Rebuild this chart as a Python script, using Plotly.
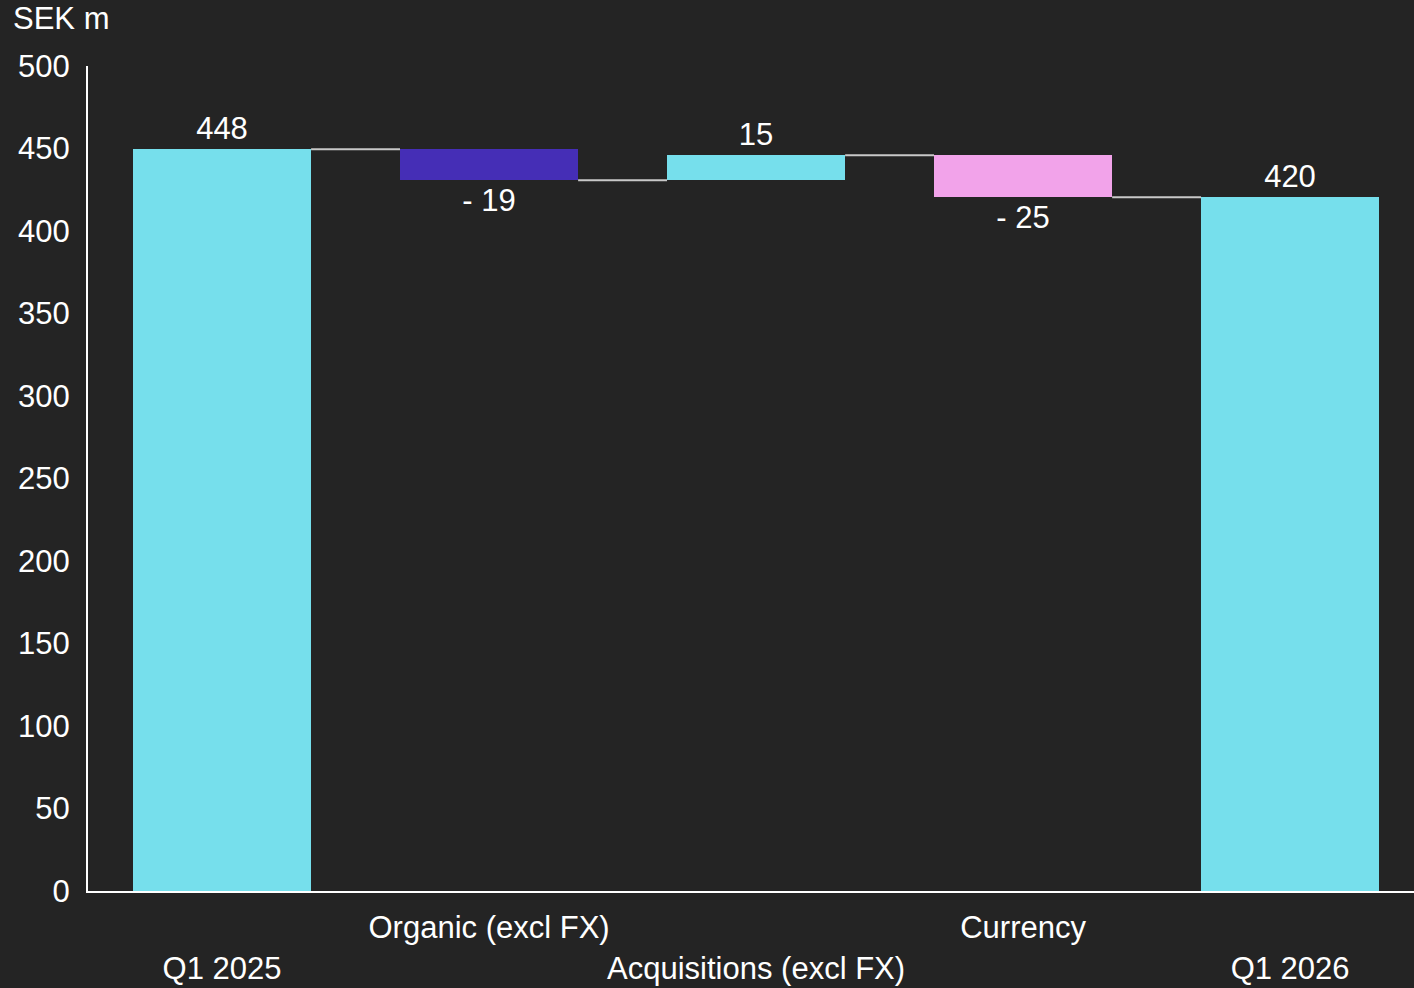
import plotly.graph_objects as go

# Bridge Q1 2025 -> Q1 2026, SEK m
categories = ["Q1 2025", "Organic (excl FX)", "Acquisitions (excl FX)", "Currency", "Q1 2026"]
start_value = 449.5
changes = [-18.8, 15.2, -25.5]
labels = ["448", "- 19", "15", "- 25", "420"]
colors = ["#76DFEC", "#452EB6", "#76DFEC", "#F2A3EA", "#76DFEC"]
y_ticks = [0, 50, 100, 150, 200, 250, 300, 350, 400, 450, 500]

BG = "#242424"
FONT = "Liberation Sans, Arial, sans-serif"
FS = 31
BAR_W = 0.667


def build_bridge():
    """Base and height of every bar from start value and changes"""
    bases, heights, levels = [0], [start_value], [start_value]
    level = start_value
    for c in changes:
        bases.append(level)
        heights.append(c)
        level += c
        levels.append(level)
    total = level
    bases.append(0)
    heights.append(total)
    return bases, heights, levels


bases, heights, levels = build_bridge()
xs = list(range(len(categories)))

fig = go.Figure()
fig.add_trace(go.Bar(
    x=xs, y=heights, base=bases, width=BAR_W,
    marker=dict(color=colors, line=dict(width=0)),
    text=labels, textposition="outside",
    textfont=dict(color="white", size=FS, family=FONT),
    cliponaxis=False, showlegend=False,
))

# connectors between bars
cx, cy = [], []
for i, lvl in enumerate(levels):
    cx += [i + BAR_W / 2, i + 1 - BAR_W / 2, None]
    cy += [lvl, lvl, None]
fig.add_trace(go.Scatter(x=cx, y=cy, mode="lines",
                         line=dict(color="#C8C8C8", width=2),
                         hoverinfo="skip", showlegend=False))

# staggered category labels
ticktext = [c if i % 2 else "<br>" + c for i, c in enumerate(categories)]

fig.update_layout(
    width=1414, height=988,
    paper_bgcolor=BG, plot_bgcolor=BG,
    margin=dict(l=88, r=0, t=66, b=97),
    font=dict(family=FONT, color="white", size=FS),
    xaxis=dict(range=[-0.502, 4.464], tickvals=xs, ticktext=ticktext,
               tickangle=0, automargin=False,
               showgrid=False, zeroline=False, showline=True,
               linecolor="white", linewidth=2, ticks="",
               ticklabelstandoff=8,
               tickfont=dict(size=FS, color="white")),
    yaxis=dict(range=[0, 500], tickvals=y_ticks, showgrid=False,
               automargin=False,
               zeroline=False, showline=True, linecolor="white",
               linewidth=2, ticks="", ticklabelstandoff=10,
               tickfont=dict(size=FS, color="white")),
    annotations=[dict(text="SEK m", x=0, y=1, xref="paper", yref="paper",
                      xanchor="left", yanchor="bottom", xshift=-77, yshift=28,
                      showarrow=False, font=dict(size=FS, color="white"))],
    bargap=0,
)

# drop the default page margin so the chart fills the window
fig.write_html("out.html", config={"displayModeBar": False}, post_script=(
    "document.body.style.margin='0';"
    "document.body.style.background='" + BG + "';"
))
